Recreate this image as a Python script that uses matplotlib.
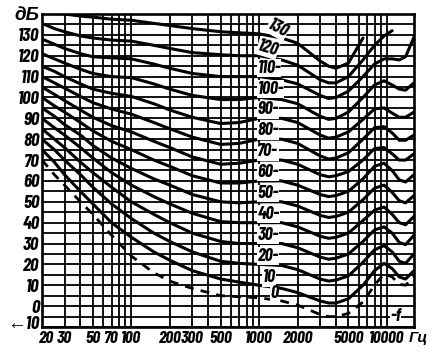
#!/usr/bin/env python3
"""Equal-loudness contours (scanned textbook chart) redrawn with matplotlib."""

import numpy as np
import matplotlib
matplotlib.use("Agg")
import matplotlib.pyplot as plt
from matplotlib.transforms import ScaledTranslation

nan = np.nan

freq_hz = [20, 25, 30, 40, 50, 70, 100, 150, 200, 300, 500, 700, 1000, 1500,
           2000, 3000, 3500, 4000, 5000, 6500, 8000, 9500, 11000, 12500, 14000, 16300]

# dashed threshold curve (0)
threshold_db = [70, 63, 58, 50, 44, 34, 24, 16, 12, 8.5, 5, 4.5, 4, 2.5,
                0.5, -4, -5, -5, -3.5, 2, 10, 15.5, 14, 10.5, 10, 14]

phon_10 = [75, 69, 63, 55, 49, 40, 33, 26, 22, 17, 13, 11.5, 10, 8.5,
           6.5, 2.5, 1.5, 1.5, 3.5, 10, 17, 20.5, 18, 14, 13, 17]
phon_20 = [80, 75, 70, 63, 57, 49, 42, 35, 31, 26, 21.5, 20.5, 20, 19.5,
           17.5, 13, 12, 12.5, 14.5, 21, 27, 29, 26, 21.5, 20.5, 25]
phon_30 = [85, 80, 76, 69, 64, 57, 50, 44, 40, 35, 31, 30, 30, 30,
           28, 23.5, 22.5, 23, 25, 31, 36.5, 38, 35, 30.5, 29.5, 34]
phon_40 = [90, 85.5, 82, 76, 71, 64, 58, 52.5, 49, 44.5, 40.5, 40, 40, 40,
           38, 33.5, 32.5, 33, 35, 41, 46, 47.5, 44, 40, 39, 43]
phon_50 = [95, 91, 87, 82, 77, 71, 66, 61, 58, 53.5, 50, 49.5, 50, 50,
           48, 43.5, 42.5, 43, 45, 51, 56.5, 58, 54.5, 50.5, 49.5, 53]
phon_60 = [100, 96, 93, 88, 84, 79, 75, 70, 67, 62.5, 59, 59, 60, 60,
           58, 53.5, 52.5, 53, 55, 61, 67, 68.5, 65, 60.5, 59.5, 63]
phon_70 = [105, 101.5, 98.5, 94, 90.5, 86.5, 83.5, 79, 76, 71.5, 68, 68.5, 70, 70,
           68, 63, 62, 62.5, 64.5, 70, 75.5, 76, 73, 70, 70, 73]
phon_80 = [110, 107, 104.5, 100.5, 97.5, 94.5, 92, 88, 85, 81, 77.5, 78, 80, 80,
           78, 72, 70.5, 71, 73.5, 80, 85.5, 86, 83, 79.5, 79.5, 82]
phon_90 = [115, 112.5, 110, 106.5, 104, 102, 100.5, 97, 94, 90.5, 87.5, 88, 90, 90,
           88, 82, 80.5, 81, 83.5, 89.5, 94.5, 95, 92.5, 90.5, 90.5, 93]
phon_100 = [121, 118.5, 116.5, 113.5, 111.5, 110, 109.5, 106.5, 104, 101, 99, 99, 100, 99,
            97, 91, 89.5, 90, 93, 100, 106, 108, 106, 104, 103.5, 107]
phon_110 = [128, 125.5, 123.5, 121, 119.5, 119, 118.5, 116, 114, 111.5, 110, 110, 110, 108.5,
            106.5, 101, 99.5, 100, 103, 110, 116, 118.5, 118.5, 118, 119.5, 129]
phon_120 = [135.5, 133, 131.5, 129.5, 128.5, 127.5, 127, 125, 123.5, 121.5, 120.5, 120, 120, 118,
            115.5, 108.5, 107, 107, 110, 118, 125, 129.5, 132, nan, nan, nan]
phon_130 = [nan, 142, 140, 139, 138.5, 137.5, 137, 135.5, 134.5, 133, 131.5, 131, 130.5, 128.5,
            126, 117.5, 115, 114, 116.5, 128.5, nan, nan, nan, nan, nan, nan]

solid_curves = [phon_10, phon_20, phon_30, phon_40, phon_50, phon_60, phon_70,
                phon_80, phon_90, phon_100, phon_110, phon_120, phon_130]
curve_levels = [0, 10, 20, 30, 40, 50, 60, 70, 80, 90, 100, 110, 120, 130]

x_tick_values = [20, 30, 50, 70, 100, 200, 300, 500, 1000, 2000, 5000, 10000]
x_tick_labels = ["20", "30", "50", "70", "100", "200", "300", "500",
                 "1000", "2000", "5000", "10000"]
y_tick_values = list(range(-10, 150, 10))
y_tick_labels = ["←10"] + [str(v) for v in range(0, 140, 10)] + ["дБ"]

# condensed face for the digits, Liberation for the Cyrillic letters
FONT = ["Barlow Condensed", "Liberation Sans Narrow", "Liberation Sans", "DejaVu Sans"]


def main() -> None:
    plt.rcParams["font.family"] = FONT

    fig = plt.figure(figsize=(4.46, 3.57), dpi=100)
    ax = fig.add_axes([42 / 446, 30 / 357, 372 / 446, 313 / 357])
    ax.set_xscale("log")
    ax.set_xlim(20, 16300)
    ax.set_ylim(-10, 140)

    txt = dict(fontweight="bold", fontstyle="italic")

    # grid: every 1..9 multiple on x, every 5 dB on y
    minor_x = [m * d for d in (10, 100, 1000, 10000) for m in range(1, 10)
               if 20 <= m * d <= 16300]
    ax.set_xticks(minor_x, minor=True)
    ax.set_xticks(x_tick_values)
    ax.set_xticklabels(x_tick_labels, fontsize=12.5, **txt)
    ax.set_yticks(range(-10, 141, 5), minor=True)
    ax.set_yticks(y_tick_values)
    ax.set_yticklabels(y_tick_labels, fontsize=13.5, **txt)
    ax.xaxis.set_minor_formatter(plt.NullFormatter())
    ax.grid(True, which="both", color="black", lw=1.3)
    ax.set_axisbelow(True)
    ax.tick_params(which="both", length=0)
    ax.tick_params(axis="x", pad=3)
    ax.tick_params(axis="y", pad=2)
    for sp in ax.spines.values():
        sp.set_linewidth(1.9)

    # lift the bottom y label a little so it clears the "20"
    low = ax.get_yticklabels()[0]
    low.set_transform(low.get_transform() + ScaledTranslation(0, 3 / 72, fig.dpi_scale_trans))
    first = ax.get_xticklabels()[0]
    first.set_transform(first.get_transform() + ScaledTranslation(3 / 72, 0, fig.dpi_scale_trans))

    for ys in solid_curves:
        ax.plot(freq_hz, ys, color="black", lw=2.2, solid_capstyle="round", zorder=3)
    ax.plot(freq_hz, threshold_db, color="black", lw=2.0, dashes=(3.2, 2.6), zorder=3)

    # curve labels near 1000 Hz
    lab_kw = dict(fontsize=13, zorder=4, bbox=dict(fc="white", ec="none", pad=0.3), **txt)
    ax.text(1400, 133.0, "130", ha="center", va="center", rotation=-28, **lab_kw)
    ax.text(1170, 123.5, "120", ha="center", va="center", rotation=-17, **lab_kw)
    for lvl in curve_levels[2:-2]:
        ax.text(970, lvl + 4, f"{lvl}-", ha="left", va="center", **lab_kw)
    ax.text(1070, 13.5, "10", ha="left", va="center", **lab_kw)
    ax.text(1220, 6.0, "0", ha="left", va="center", **lab_kw)
    ax.text(10600, -5.2, "-f", ha="left", va="center", **lab_kw)

    ax.text(0.985, -0.012, "Гц", transform=ax.transAxes, ha="left", va="top",
            fontsize=11, family=["Liberation Sans Narrow", "Liberation Sans"], **txt)

    fig.savefig("out.png", dpi=100)
    plt.close(fig)


if __name__ == "__main__":
    main()
